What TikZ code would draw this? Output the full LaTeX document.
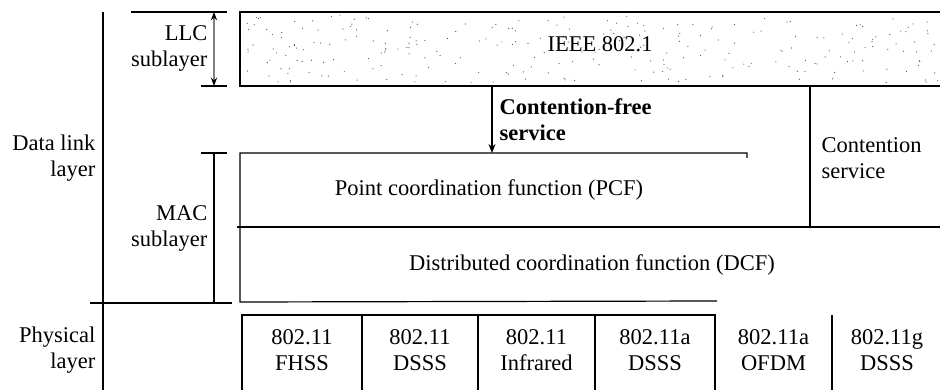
\documentclass[tikz,border=0pt]{standalone}
\usepackage{fontspec}
\setmainfont{Liberation Serif}
\usetikzlibrary{arrows.meta}
\begin{document}
\begin{tikzpicture}[x=1pt,y=-1pt,line width=1.2pt,
  lbl/.style={font=\fontsize{22.5}{26}\selectfont,align=right,anchor=east,inner sep=0pt},
  txt/.style={font=\fontsize{22.5}{26}\selectfont,align=center,inner sep=0pt},
  phybox/.style={line width=1.8pt}]
\useasboundingbox (0,0) rectangle (942,390);

% layer labels on the left
\node[lbl] (datalink) at (96,158) {Data link\\layer};
\node[lbl] (physical) at (96,350) {Physical\\layer};
\coordinate (DLtop) at (103,12);
\coordinate (DLbot) at (103,390);
\draw (DLtop) -- (DLbot);

% LLC sublayer
\coordinate (LLCa) at (131,12);
\coordinate (LLCb) at (227,12);
\coordinate (LLCc) at (201,86);
\coordinate (LLCd) at (227,86);
\draw (LLCa) -- (LLCb);
\draw (LLCc) -- (LLCd);
\draw[gray,{Stealth[black]}-{Stealth[black]}] (214,12) -- (214,86);
\node[lbl] (llc) at (208,48) {LLC\\sublayer};

% MAC sublayer
\coordinate (MACa) at (201,153);
\coordinate (MACb) at (227,153);
\coordinate (MACc) at (90,303);
\coordinate (MACd) at (232,303);
\draw (MACa) -- (MACb);
\draw (MACc) -- (MACd);
\draw (214,153) -- (214,303);
\node[lbl] (mac) at (208,228) {MAC\\sublayer};

% IEEE 802.1 box, stippled
\pgfmathsetseed{42}
\foreach \i in {1,...,260}{
  \pgfmathsetmacro\px{243+695*rnd}
  \pgfmathsetmacro\py{15+68*rnd}
  \fill[black!70] (\px,\py) circle (0.6pt);
}
\coordinate (IEa) at (940,12);
\coordinate (IEb) at (240,12);
\coordinate (IEc) at (240,86);
\coordinate (IEd) at (940,86);
\draw (IEa) -- (IEb) -- (IEc) -- (IEd);
\node[txt] (ieee) at (600,44) {IEEE 802.1};

% contention-free service
\coordinate (CFa) at (492,86);
\coordinate (CFb) at (492,153);
\draw[-{Stealth[length=9pt,width=7pt]}] (CFa) -- (CFb);
\node[txt,anchor=west,align=left,font=\fontsize{22.5}{26}\selectfont\bfseries] (cfree) at (499,120) {Contention-free\\service};

% contention service
\coordinate (CSa) at (810,86);
\coordinate (CSb) at (810,228);
\draw[line width=2pt] (CSa) -- (CSb);
\node[txt,anchor=west,align=left] (cserv) at (821,158) {Contention\\service};

% PCF and DCF
\coordinate (PCa) at (747,158);
\coordinate (PCb) at (747,153);
\coordinate (PCc) at (240,153);
\coordinate (PCd) at (240,302);
\coordinate (DCa) at (717,301);
\draw (PCa) -- (PCb) -- (PCc) -- (PCd) -- (DCa);
\draw (237,227) -- (940,227);
\node[txt] (pcf) at (489,190) {Point coordination function (PCF)};
\node[txt] (dcf) at (592,265) {Distributed coordination function (DCF)};

% physical layer boxes
\draw[phybox] (242,390) -- (242,315) -- (715,315) -- (715,390);
\foreach \xx in {362,478,595,832}
  \draw[phybox] (\xx,315) -- (\xx,390);
\node[txt] (fhss)  at (302,350)   {802.11\\FHSS};
\node[txt] (dsss)  at (420,350)   {802.11\\DSSS};
\node[txt] (ir)    at (536.5,350) {802.11\\Infrared};
\node[txt] (adsss) at (655,350)   {802.11a\\DSSS};
\node[txt] (ofdm)  at (773.5,350) {802.11a\\OFDM};
\node[txt] (gdsss) at (887,350)   {802.11g\\DSSS};
\end{tikzpicture}
\end{document}
